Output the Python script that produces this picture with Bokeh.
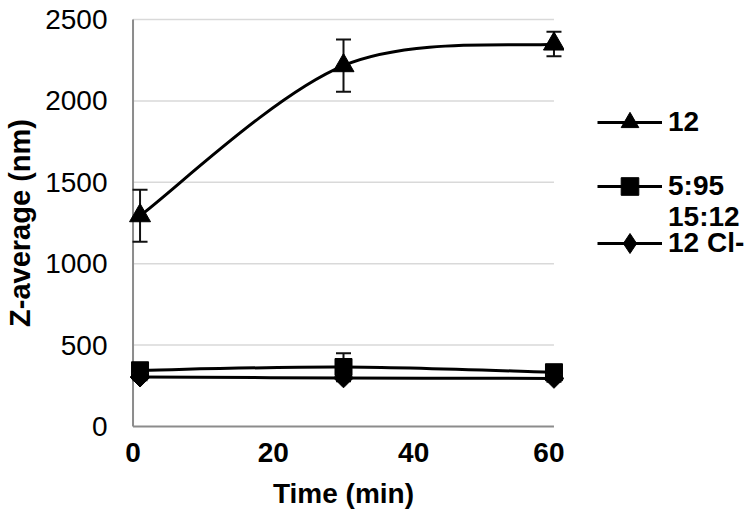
import numpy as np
from bokeh.plotting import figure
from bokeh.layouts import row
from bokeh.models import (FixedTicker, Legend, LegendItem, Range1d, ColumnDataSource)
from bokeh.embed import file_html
from bokeh.resources import INLINE

# ---- data ----
time_min = [1, 30, 60]
z_12 = [1295, 2217, 2350]
z_12_err = [160, 160, 75]
z_595 = [345, 365, 333]
z_595_err = [30, 85, 30]
z_12cl = [303, 298, 295]
z_12cl_err = [20, 20, 20]

series_labels = ["12", "5:95", "15:12", "12 Cl-"]
x_ticks = [0, 20, 40, 60]
y_ticks = [0, 500, 1000, 1500, 2000, 2500]

FONT = "Liberation Sans"

p = figure(frame_width=442, frame_height=415, output_backend="svg", toolbar_location=None,
           x_range=Range1d(-1.5, 61.5), y_range=Range1d(-25, 2525),
           min_border_left=122, min_border_right=0,
           min_border_top=15, min_border_bottom=85)
p.outline_line_color = None
p.background_fill_color = "white"
p.border_fill_color = "white"
p.xgrid.visible = False
p.ygrid.visible = False

for ax in (p.xaxis[0], p.yaxis[0]):
    ax.axis_line_color = None
    ax.major_tick_line_color = None
    ax.minor_tick_line_color = None
    ax.major_tick_out = 0
    ax.major_tick_in = 0
    ax.minor_tick_out = 0
    ax.minor_tick_in = 0
    ax.major_label_text_font = FONT
    ax.major_label_text_font_size = "28px"
    ax.major_label_text_color = "black"
    ax.axis_label_text_font = FONT
    ax.axis_label_text_font_style = "bold"
    ax.axis_label_text_color = "black"
p.xaxis.ticker = FixedTicker(ticks=x_ticks)
p.yaxis.ticker = FixedTicker(ticks=y_ticks)
p.xaxis.major_label_text_font_style = "bold"
p.xaxis.major_label_standoff = 12
p.xaxis.axis_label = "Time (min)"
p.xaxis.axis_label_text_font_size = "28px"
p.xaxis.axis_label_standoff = 13
p.yaxis.major_label_standoff = 15
p.yaxis.axis_label = "Z-average (nm)"
p.yaxis.axis_label_text_font_size = "29px"
p.yaxis.axis_label_standoff = 6

# gridlines & axis lines drawn from tick arrays, spanning the data x extent
gy = y_ticks[1:]
p.segment(x0=[x_ticks[0]] * len(gy), y0=gy, x1=[x_ticks[-1]] * len(gy), y1=gy,
          line_color="#d9d9d9", line_width=1.5)
p.segment(x0=[x_ticks[0]], y0=[y_ticks[0]], x1=[x_ticks[-1]], y1=[y_ticks[0]],
          line_color="#8c8c8c", line_width=2)
p.segment(x0=[x_ticks[0]], y0=[y_ticks[0]], x1=[x_ticks[0]], y1=[y_ticks[-1]],
          line_color="#8c8c8c", line_width=2)


def smooth_bezier(xs, ys):
    """Excel-like smoothed line: Catmull-Rom converted to cubic Bezier segments."""
    xs = np.asarray(xs, float)
    ys = np.asarray(ys, float)
    n = len(xs)
    px = np.concatenate([[xs[0]], xs, [xs[-1]]])
    py = np.concatenate([[ys[0]], ys, [ys[-1]]])
    d = dict(x0=[], y0=[], x1=[], y1=[], cx0=[], cy0=[], cx1=[], cy1=[])
    for i in range(n - 1):
        a, b = i + 1, i + 2
        d["x0"].append(px[a]); d["y0"].append(py[a])
        d["x1"].append(px[b]); d["y1"].append(py[b])
        d["cx0"].append(px[a] + (px[b] - px[a - 1]) / 6)
        d["cy0"].append(py[a] + (py[b] - py[a - 1]) / 6)
        d["cx1"].append(px[b] - (px[b + 1] - px[a]) / 6)
        d["cy1"].append(py[b] - (py[b + 1] - py[a]) / 6)
    return ColumnDataSource(d)


markers = [
    dict(marker="triangle", size=21, angle=0.0, legend_marker="triangle"),
    dict(marker="square", size=17, angle=0.0, legend_marker="square"),
    dict(marker="square", size=14, angle=np.pi / 4, legend_marker="diamond"),
]
series = [(z_12, z_12_err), (z_595, z_595_err), (z_12cl, z_12cl_err)]

for (ys, errs), mk in zip(series, markers):
    p.bezier(x0="x0", y0="y0", x1="x1", y1="y1", cx0="cx0", cy0="cy0",
             cx1="cx1", cy1="cy1", source=smooth_bezier(time_min, ys),
             line_color="black", line_width=3)
    upper = [y + e for y, e in zip(ys, errs)]
    lower = [y - e for y, e in zip(ys, errs)]
    p.segment(x0=time_min, y0=lower, x1=time_min, y1=upper,
              line_color="#111111", line_width=2)
    p.scatter(x=time_min + time_min, y=upper + lower, marker="dash", size=15,
              line_color="#111111", line_width=2)
    p.scatter(x=time_min, y=ys, marker=mk["marker"], size=mk["size"],
              angle=mk["angle"], fill_color="black", line_color="black")

# ---- legend panel (separate canvas so nothing is clipped) ----
# its y range is placed below all data, so the proxy renderers draw nothing
lp = figure(width=184, height=515, output_backend="svg", toolbar_location=None,
            x_range=Range1d(0, 1), y_range=Range1d(-2, -1),
            x_axis_location=None, y_axis_location=None,
            min_border=0, min_border_left=0, min_border_right=0,
            min_border_top=0, min_border_bottom=0)
lp.outline_line_color = None
lp.grid.visible = False
lp.background_fill_color = "white"
lp.border_fill_color = "white"

proxies = []
for (ys, _), mk in zip(series, markers):
    lr = lp.line(x=time_min, y=ys, line_color="black", line_width=3)
    mr = lp.scatter(x=time_min, y=ys, marker=mk["legend_marker"],
                    fill_color="black", line_color="black")
    proxies.append([lr, mr])
ghost = lp.scatter(x=time_min, y=z_595, marker="square", fill_alpha=0, line_alpha=0)

legend_specs = [
    (series_labels[0], proxies[0], 286, 44),
    (series_labels[1], proxies[1], 222, 44),
    (series_labels[2], [ghost], 191, 44),
    (series_labels[3], proxies[2], 162, 50),
]
for lab, rends, vy, gh in legend_specs:
    lg = Legend(items=[LegendItem(label=lab, renderers=rends)],
                location=(33, vy), orientation="vertical",
                glyph_width=65, glyph_height=gh, label_standoff=6,
                padding=0, margin=0, spacing=0,
                border_line_color=None, background_fill_alpha=0,
                label_text_font=FONT, label_text_font_size="28px",
                label_text_font_style="bold", label_text_color="black")
    lp.add_layout(lg, "center")

layout = row(p, lp, spacing=0)
open("out.html", "w").write(file_html(layout, INLINE))
